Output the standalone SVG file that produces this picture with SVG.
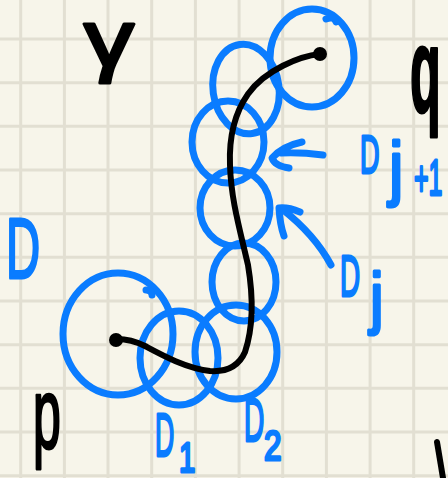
<svg xmlns="http://www.w3.org/2000/svg" width="448" height="478" viewBox="0 0 448 478">
<style>
.grid{stroke:#e2dfd2;stroke-width:3;fill:none}
.disk{fill:none;stroke:#0a7cff;stroke-width:7;stroke-linecap:round;stroke-linejoin:round}
.ink{fill:none;stroke:#000;stroke-width:6;stroke-linecap:round;stroke-linejoin:round}
.bl{fill:#0a7cff;stroke:#0a7cff;stroke-width:3;stroke-linejoin:round;font-family:"Liberation Sans",sans-serif}
.bk{fill:#000;stroke:#000;stroke-width:3;stroke-linejoin:round;font-family:"Liberation Sans",sans-serif}
</style>
<rect width="448" height="478" fill="#f7f5ea"/>
<g id="grid" class="grid">
<path d="M20.7 0V478M64.4 0V478M108 0V478M151.7 0V478M195.4 0V478M239.1 0V478M282.7 0V478M326.4 0V478M370.1 0V478M413.7 0V478"/>
<path d="M0 39H448M0 82.7H448M0 126.3H448M0 170H448M0 213.7H448M0 257.3H448M0 301H448M0 344.7H448M0 388.3H448M0 432H448M0 475.7H448"/>
</g>
<g id="disks">
<ellipse id="disk-q" class="disk" cx="312" cy="58" rx="42" ry="49"/>
<path class="disk" d="M326 19 Q334 16 336 22"/>
<ellipse id="disk-a" class="disk" cx="246" cy="89" rx="33" ry="45" transform="rotate(-8 246 89)"/>
<ellipse id="disk-j1" class="disk" cx="228" cy="142" rx="36" ry="41"/>
<ellipse id="disk-j" class="disk" cx="235" cy="208" rx="35" ry="38"/>
<ellipse id="disk-b" class="disk" cx="244" cy="282" rx="32" ry="39"/>
<ellipse id="disk-2" class="disk" cx="236" cy="352" rx="41" ry="47"/>
<ellipse id="disk-1" class="disk" cx="179" cy="358" rx="39" ry="47"/>
<ellipse id="disk-p" class="disk" cx="118" cy="334" rx="55" ry="61"/>
<path class="disk" d="M146 290 Q152 290 152 295"/>
</g>
<g id="connectors">
<path id="gamma-path" class="ink" d="M320 54 C300 56 265 70 248 94 C234 114 229 140 230 165 C231 200 240 230 248 265 C253 295 254 325 245 352 C238 368 225 372 210 371 C185 368 160 354 145 346 C135 341 125 339 117 339"/>
<circle cx="320" cy="54" r="7" fill="#000"/>
<circle cx="116" cy="340" r="7" fill="#000"/>
<path id="arrow-j1" class="disk" d="M323 155 Q300 152 281 153 M302 142 Q283 146 272 158 Q275 166 289 168"/>
<path id="arrow-j" class="disk" d="M331 265 Q315 235 282 209 M300 212 Q288 207 279 208 Q280 225 284 236"/>
</g>
<g id="labels">
<text class="bk" transform="translate(84,66) scale(1.25,1)" font-family="Noto Sans" font-size="80">γ</text>
<text class="bk" transform="translate(410,112) scale(0.42,1)" font-weight="bold" font-size="120">q</text>
<text class="bk" transform="translate(33,448) scale(0.5,1)" font-size="100">p</text>
<text class="bl" transform="translate(6,278) scale(0.55,1)" font-size="86">D</text>
<text class="bl" transform="translate(155,456) scale(0.43,1)" font-size="62">D</text>
<text class="bl" transform="translate(179,472) scale(0.7,1)" font-size="42">1</text>
<text class="bl" transform="translate(244,441) scale(0.46,1)" font-size="61">D</text>
<text class="bl" transform="translate(264,460) scale(0.75,1)" font-size="42">2</text>
<text class="bl" transform="translate(340,296) scale(0.48,1)" font-size="58">D</text>
<text class="bl" transform="translate(370,321) scale(0.9,1)" font-size="68">j</text>
<text class="bl" transform="translate(360,173) scale(0.5,1)" font-size="54">D</text>
<text class="bl" transform="translate(389,192) scale(0.9,1)" font-size="72">j</text>
<text class="bl" transform="translate(414,195) scale(0.5,1)" font-size="50">+1</text>
</g>
<path id="edge-mark" class="ink" d="M437 442 L443 478"/>
</svg>
